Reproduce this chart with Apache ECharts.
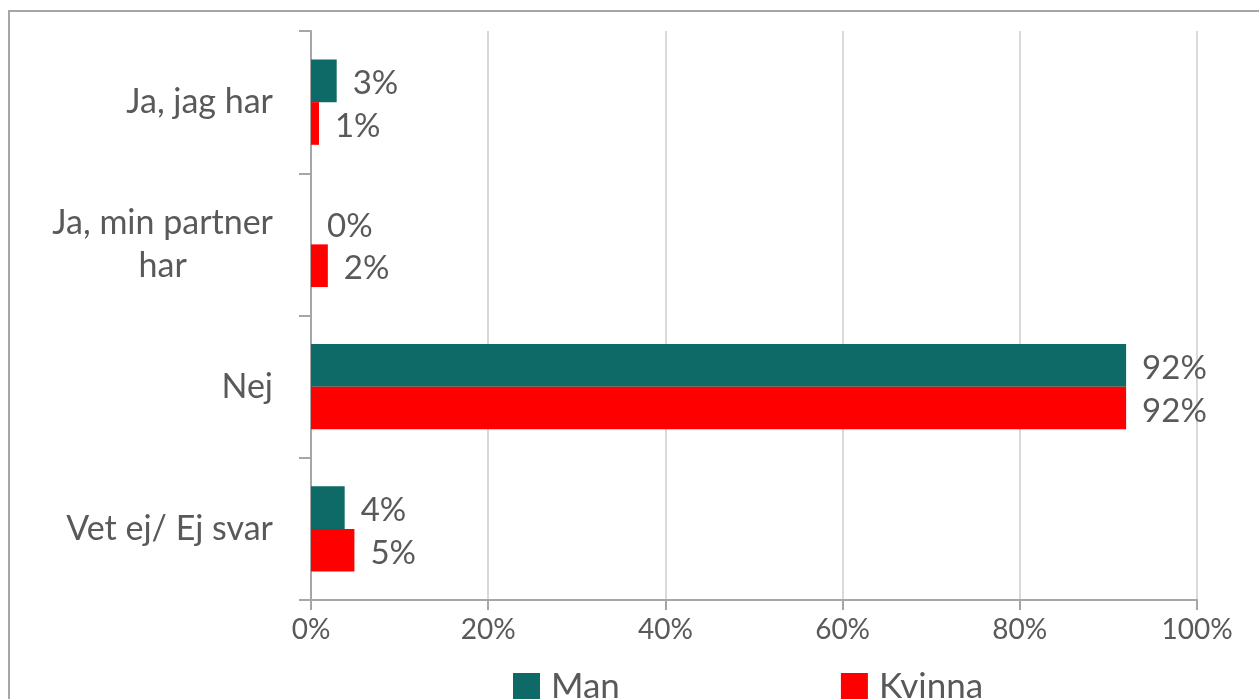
<!DOCTYPE html>
<html>
<head>
<meta charset="utf-8">
<script src="https://cdn.jsdelivr.net/npm/echarts@6/dist/echarts.min.js"></script>
<style>
html,body{margin:0;padding:0;background:#fff;}
#chart{width:1259px;height:699px;}
</style>
</head>
<body>
<div id="chart"></div>
<script>
var categories = ['Ja, jag har', 'Ja, min partner\nhar', 'Nej', 'Vet ej/ Ej svar'];
var seriesNames = ['Man', 'Kvinna'];
var manValues = [2.9, 0, 92, 3.8];
var kvinnaValues = [0.9, 1.9, 92, 4.9];
var xTicks = [0, 20, 40, 60, 80, 100];

var FONT = 'Lato';
var TXT = '#595959';
var chart = echarts.init(document.getElementById('chart'));

function labelCfg() {
  return {
    show: true,
    position: 'right',
    distance: 16,
    offset: [0, 3],
    color: TXT,
    fontFamily: FONT,
    fontSize: 33,
    formatter: function (p) { return Math.round(p.value) + '%'; }
  };
}

chart.setOption({
  animation: false,
  backgroundColor: '#fff',
  graphic: [{
    type: 'rect',
    z: -10,
    shape: { x: 9, y: 11, width: 1300, height: 800 },
    style: { fill: 'none', stroke: '#a6a6a6', lineWidth: 2 }
  }],
  grid: { left: 311, right: 62, top: 31, bottom: 99, containLabel: false },
  legend: {
    data: seriesNames,
    left: 513,
    top: 669,
    padding: 0,
    icon: 'rect',
    itemWidth: 27,
    itemHeight: 27,
    itemGap: 221,
    textStyle: { color: TXT, fontFamily: FONT, fontSize: 35, lineHeight: 27, padding: [4, 0, 0, 6] }
  },
  xAxis: {
    type: 'value',
    min: xTicks[0],
    max: xTicks[xTicks.length - 1],
    interval: 20,
    axisLine: { show: true, lineStyle: { color: '#a6a6a6', width: 2 } },
    axisTick: { show: true, length: 10, lineStyle: { color: '#a6a6a6', width: 2 } },
    splitLine: { show: true, lineStyle: { color: '#d9d9d9', width: 2 } },
    axisLabel: { color: TXT, fontFamily: FONT, fontSize: 28, margin: 16, formatter: '{value}%' }
  },
  yAxis: {
    type: 'category',
    inverse: true,
    data: categories,
    axisLine: { show: true, lineStyle: { color: '#a6a6a6', width: 2 } },
    axisTick: { show: true, length: 12, lineStyle: { color: '#a6a6a6', width: 2 } },
    axisLabel: {
      color: TXT,
      fontFamily: FONT,
      fontSize: 34,
      margin: 38,
      lineHeight: 43,
      formatter: function (v) { return '{c|' + v + '}'; },
      rich: { c: { align: 'center', color: TXT, fontFamily: FONT, fontSize: 34, lineHeight: 43 } }
    }
  },
  series: [
    {
      name: seriesNames[0],
      type: 'bar',
      data: manValues,
      barGap: '0%',
      barCategoryGap: '40%',
      itemStyle: { color: '#0d6a66' },
      label: labelCfg()
    },
    {
      name: seriesNames[1],
      type: 'bar',
      data: kvinnaValues,
      barGap: '0%',
      barCategoryGap: '40%',
      itemStyle: { color: '#ff0000' },
      label: labelCfg()
    }
  ]
});
</script>
</body>
</html>
